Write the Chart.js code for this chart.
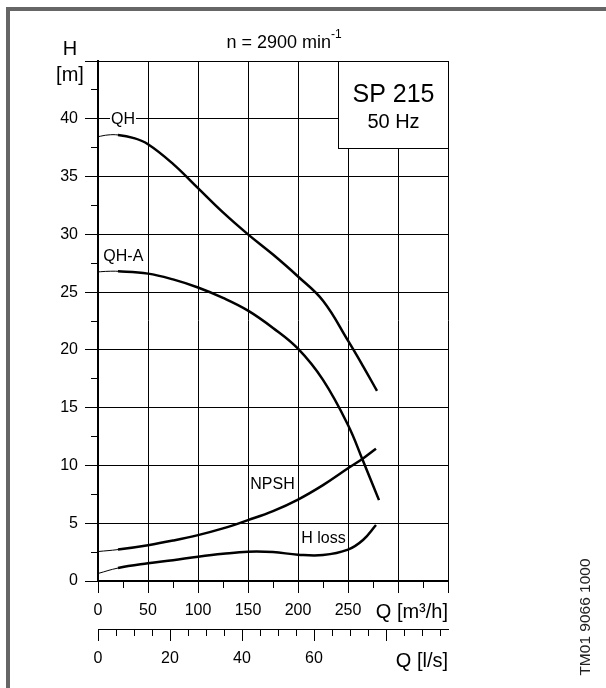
<!DOCTYPE html>
<html><head><meta charset="utf-8">
<script src="https://cdn.jsdelivr.net/npm/chart.js@4"></script>
<style>html,body{margin:0;padding:0;background:#fff}canvas{display:block}</style>
</head><body>
<canvas id="c" width="606" height="688"></canvas>
<script>
// Flow Q [m3/h] and head H [m]
const qhQ   = [0, 10, 20, 35, 50, 75, 100, 125, 150, 175, 200, 225, 250, 265, 279];
const qhH   = [38.45, 38.6, 38.6, 38.35, 37.8, 36.1, 34.0, 31.9, 30.0, 28.25, 26.35, 24.25, 20.8, 18.6, 16.45];
const qhaQ  = [0, 10, 20, 50, 75, 100, 125, 150, 175, 200, 225, 250, 265, 281];
const qhaH  = [26.75, 26.8, 26.8, 26.6, 26.1, 25.4, 24.5, 23.4, 21.9, 20.1, 17.4, 13.5, 10.4, 7.0];
const npshQ = [0, 20, 50, 75, 100, 125, 150, 175, 200, 225, 250, 265, 278];
const npshH = [2.55, 2.72, 3.1, 3.5, 3.97, 4.55, 5.27, 6.05, 7.05, 8.3, 9.75, 10.6, 11.45];
const lossQ = [0, 20, 50, 75, 100, 125, 150, 175, 200, 225, 250, 265, 278];
const lossH = [0.65, 1.12, 1.53, 1.8, 2.1, 2.35, 2.53, 2.5, 2.28, 2.25, 2.72, 3.55, 4.85];

const qTickLabels   = [0, 50, 100, 150, 200, 250];
const lsTickLabels  = [0, 20, 40, 60];
const hTickLabels   = [0, 5, 10, 15, 20, 25, 30, 35, 40];
const curveLabels = [
  {text: 'QH',     q: 25,    h: 39.9, bg: true},
  {text: 'QH-A',   q: 25.3,  h: 28.1, bg: false},
  {text: 'NPSH',   q: 174.5, h: 8.3,  bg: false},
  {text: 'H loss', q: 225.5, h: 3.7,  bg: false}
];

const FONT = "'Liberation Sans', Arial, sans-serif";
Chart.defaults.font.family = FONT;
Chart.defaults.font.size = 16;
Chart.defaults.color = '#000';

const toPts = (qs, hs) => qs.map((q, i) => ({x: q, y: hs[i]}));
const mkSet = (label, qs, hs) => ({
  label, data: toPts(qs, hs), borderColor: '#000', backgroundColor: '#000',
  pointRadius: 0, fill: false, tension: 0.4,
  borderWidth: 2.5, borderCapStyle: 'butt',
  segment: { borderWidth: ctx => ctx.p0.parsed.x < 19 ? 1 : 2.5 }
});

const annot = {
  id: 'annot',
  beforeDraw(chart) {
    const c = chart.ctx; c.save(); c.fillStyle = '#fff';
    c.fillRect(0, 0, chart.width, chart.height); c.restore();
  },
  afterDraw(chart) {
    const c = chart.ctx, xs = chart.scales.x, ys = chart.scales.y;
    c.save();
    // frame
    c.fillStyle = '#666';
    c.fillRect(6, 7, 600, 4);
    c.fillRect(6, 7, 4, 681);
    // model box
    const bx = Math.round(xs.getPixelForValue(239.5)) + 0.5;
    const by = Math.round(ys.top) + 0.5;
    const bw = Math.round(xs.right) - bx + 0.5;
    const bh = Math.round(ys.getPixelForValue(37.5)) + 0.5 - by;
    c.fillStyle = '#fff'; c.fillRect(bx, by, bw, bh);
    c.strokeStyle = '#000'; c.lineWidth = 1; c.strokeRect(bx, by, bw, bh);
    c.fillStyle = '#000'; c.textAlign = 'center'; c.textBaseline = 'middle';
    c.font = '25px ' + FONT; c.fillText('SP 215', bx + bw / 2, 95);
    c.font = '20px ' + FONT; c.fillText('50 Hz', bx + bw / 2, 122);
    // curve labels
    c.font = '16px ' + FONT;
    curveLabels.forEach(l => {
      const px = xs.getPixelForValue(l.q), py = ys.getPixelForValue(l.h);
      if (l.bg) {
        const w = c.measureText(l.text).width;
        c.fillStyle = '#fff'; c.fillRect(px - w / 2 - 1, py - 8, w + 2, 16);
      }
      c.fillStyle = '#000'; c.fillText(l.text, px, py);
    });
    // title
    c.font = '18px ' + FONT;
    const t1 = 'n = 2900 min', w1 = c.measureText(t1).width;
    c.font = '12px ' + FONT;
    const t2 = '-1', w2 = c.measureText(t2).width;
    const tx = 284 - (w1 + w2) / 2;
    c.textAlign = 'left';
    c.font = '18px ' + FONT; c.fillText(t1, tx, 43);
    c.font = '12px ' + FONT; c.fillText(t2, tx + w1, 35);
    // axis titles
    c.textAlign = 'center';
    c.font = '20px ' + FONT;
    c.fillText('H', 70, 49);
    c.fillText('[m]', 70, 75);
    c.textAlign = 'right';
    c.fillText('Q [m\u00B3/h]', xs.right, 612);
    c.fillText('Q [l/s]', xs.right, 661);
    // drawing number
    c.save();
    c.translate(586, 617); c.rotate(-Math.PI / 2);
    c.textAlign = 'center'; c.font = '15.5px ' + FONT; c.fillStyle = '#222';
    c.fillText('TM01 9066 1000', 0, 0);
    c.restore();
    c.restore();
  }
};

const gridBase = {color: '#000', lineWidth: 1, tickColor: '#000', tickWidth: 1};

new Chart(document.getElementById('c'), {
  type: 'line',
  data: {
    datasets: [
      mkSet('QH', qhQ, qhH),
      mkSet('QH-A', qhaQ, qhaH),
      mkSet('NPSH', npshQ, npshH),
      mkSet('H loss', lossQ, lossH)
    ]
  },
  options: {
    responsive: false, animation: false, devicePixelRatio: 1,
    layout: {padding: {top: 61, right: 158, left: 0, bottom: 0}},
    plugins: {legend: {display: false}, tooltip: {enabled: false}, title: {display: false}},
    scales: {
      yMinor: {
        type: 'linear', position: 'left', min: 0, max: 45, weight: 0,
        ticks: {display: false, stepSize: 2.5, includeBounds: false},
        grid: {...gridBase, drawOnChartArea: false, tickLength: 7},
        border: {display: false},
        afterFit(s) { s.width = 0; }
      },
      y: {
        type: 'linear', position: 'left', min: 0, max: 45, weight: 1,
        ticks: {stepSize: 5, padding: 7, autoSkip: false,
          callback: v => hTickLabels.includes(v) ? String(v) : ''},
        grid: {...gridBase, tickLength: 13},
        border: {display: true, color: '#000', width: 2},
        afterFit(s) { s.width = 98; }
      },
      xMinor: {
        type: 'linear', position: 'bottom', min: 0, max: 350, weight: 0,
        ticks: {display: false, stepSize: 25, includeBounds: false},
        grid: {...gridBase, drawOnChartArea: false, tickLength: 7},
        border: {display: false},
        afterFit(s) { s.height = 0; }
      },
      x: {
        type: 'linear', position: 'bottom', min: 0, max: 350, weight: 1,
        ticks: {stepSize: 50, padding: 8, autoSkip: false, maxRotation: 0,
          callback: v => qTickLabels.includes(v) ? String(v) : ''},
        grid: {...gridBase, tickLength: 12},
        border: {display: true, color: '#000', width: 2},
        afterFit(s) { s.height = 48; }
      },
      lsMinor: {
        type: 'linear', position: 'bottom', min: 0, max: 350 / 3.6, weight: 2,
        ticks: {display: false, stepSize: 5, includeBounds: false},
        grid: {...gridBase, drawOnChartArea: false, tickLength: 7},
        border: {display: false},
        afterFit(s) { s.height = 0; }
      },
      ls: {
        type: 'linear', position: 'bottom', min: 0, max: 350 / 3.6, weight: 3,
        ticks: {stepSize: 20, padding: 8, autoSkip: false, maxRotation: 0, includeBounds: false,
          callback: v => lsTickLabels.includes(v) ? String(v) : ''},
        grid: {...gridBase, drawOnChartArea: false, tickLength: 12},
        border: {display: true, color: '#000', width: 1},
        afterFit(s) { s.height = 59; }
      }
    }
  },
  plugins: [annot]
});
</script>
</body></html>
